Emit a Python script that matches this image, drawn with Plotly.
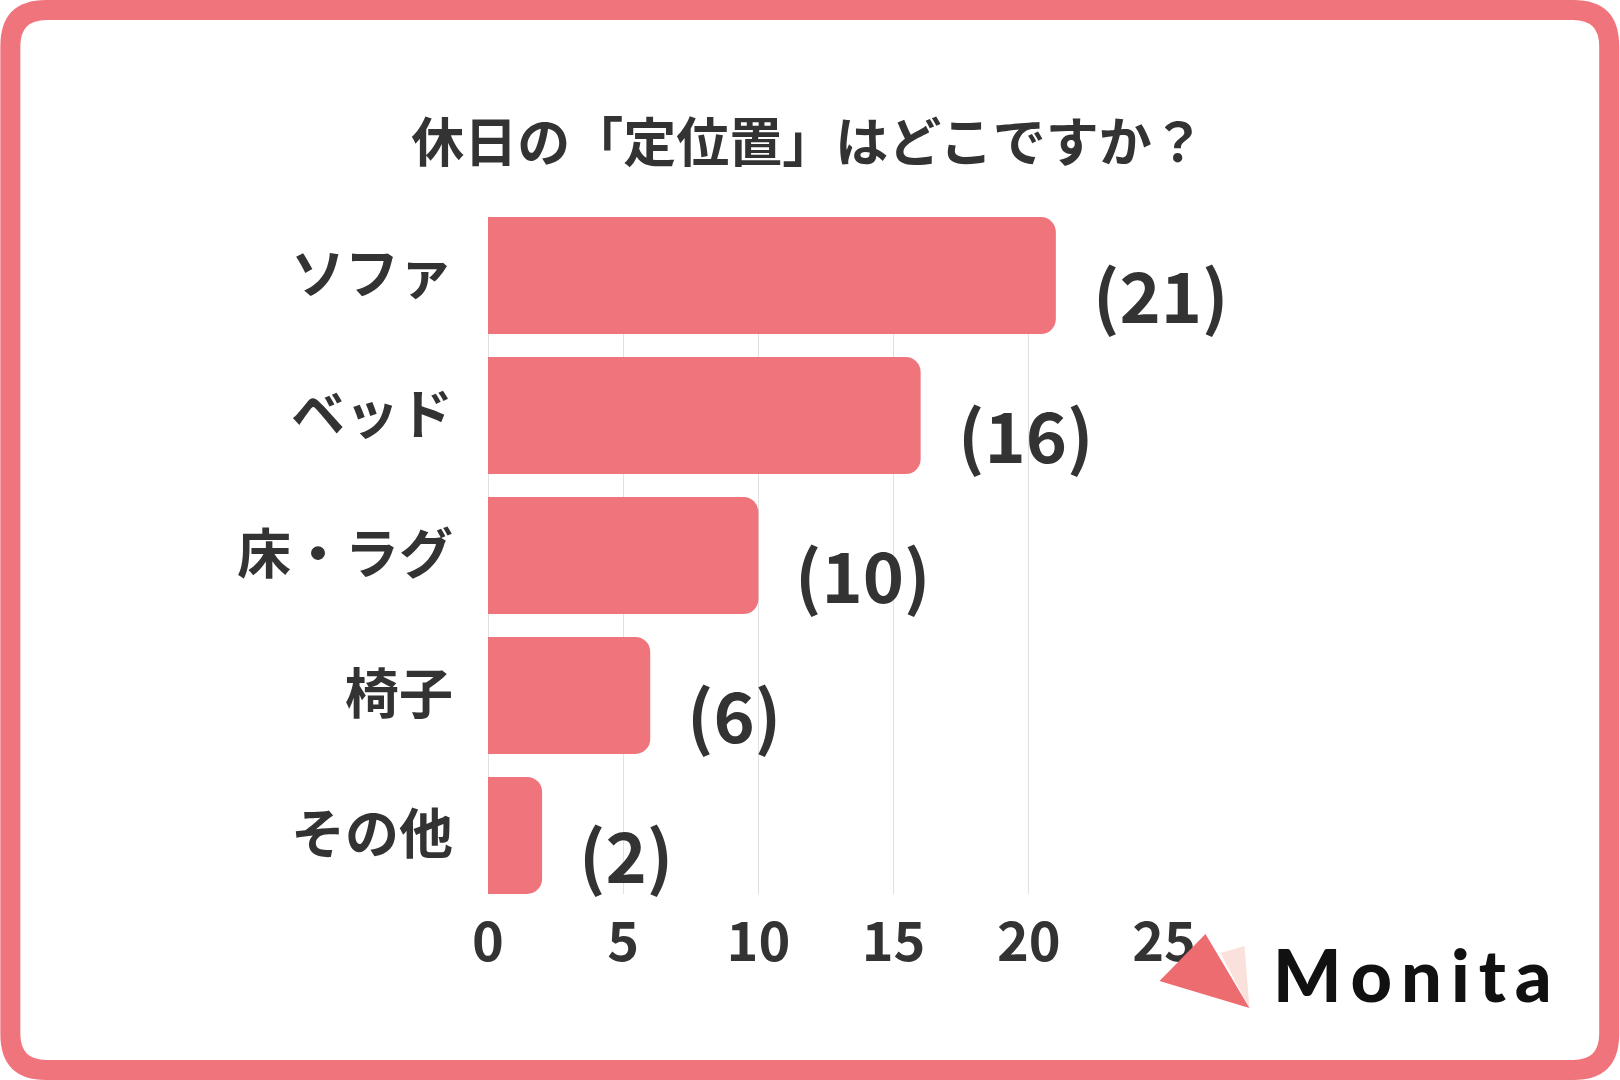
import plotly.graph_objects as go

# ---- data ----
categories = ["ソファ", "ベッド", "床・ラグ", "椅子", "その他"]
values = [21, 16, 10, 6, 2]
x_ticks = [0, 5, 10, 15, 20, 25]
title_text = "休日の「定位置」はどこですか？"
logo_text = "Monita"

# ---- layout constants (pixels) ----
W, H = 1620, 1080
PL, PR, PT, PB = 488, 1164.5, 217, 894
BAR_COLOR = "#EF747B"
TEXT_COLOR = "#333333"
FONT = "Noto Sans CJK JP"


def px(x):
    return (x - PL) / (PR - PL)


def py(y):
    return (PB - y) / (PB - PT)


def rrect(x0, y0, x1, y1, r):
    pts = [
        ("M", (x0 + r, y0)),
        ("L", (x1 - r, y0)),
        ("Q", (x1, y0), (x1, y0 + r)),
        ("L", (x1, y1 - r)),
        ("Q", (x1, y1), (x1 - r, y1)),
        ("L", (x0 + r, y1)),
        ("Q", (x0, y1), (x0, y1 - r)),
        ("L", (x0, y0 + r)),
        ("Q", (x0, y0), (x0 + r, y0)),
    ]
    parts = []
    for p in pts:
        cmd = p[0]
        coords = " ".join(f"{px(a):.5f},{py(b):.5f}" for a, b in p[1:])
        parts.append(f"{cmd} {coords}")
    return " ".join(parts) + " Z"


def poly(points):
    s = "M " + " L ".join(f"{px(a):.5f},{py(b):.5f}" for a, b in points)
    return s + " Z"


fig = go.Figure()
fig.add_trace(
    go.Bar(
        x=values,
        y=categories,
        orientation="h",
        marker=dict(color=BAR_COLOR, cornerradius=15, line=dict(width=0)),
        hoverinfo="skip",
    )
)

shapes = [
    dict(type="path", xref="paper", yref="paper", path=rrect(0, 0, W, H, 46),
         fillcolor=BAR_COLOR, line=dict(width=0), layer="below"),
    dict(type="path", xref="paper", yref="paper", path=rrect(20, 20, W - 20, H - 20, 26),
         fillcolor="white", line=dict(width=0), layer="below"),
    # logo triangles
    dict(type="path", xref="paper", yref="paper",
         path=poly([(1221, 953), (1245, 946), (1250, 1008)]),
         fillcolor="#FBE1DC", line=dict(width=0), layer="above"),
    dict(type="path", xref="paper", yref="paper",
         path=poly([(1160, 981), (1206, 934), (1250, 1008)]),
         fillcolor="#EC6C70", line=dict(width=0), layer="above"),
]

annotations = []
for c, v in zip(categories, values):
    annotations.append(
        dict(x=v, y=c, xref="x", yref="y", text=f"({v})", showarrow=False,
             xanchor="left", yanchor="middle", xshift=35, yshift=-17,
             font=dict(family=FONT, size=70, color=TEXT_COLOR, weight="bold"))
    )
annotations.append(
    dict(x=px(1272), y=py(974), xref="paper", yref="paper",
         text="\u200a\u200a".join(logo_text), showarrow=False,
         xanchor="left", yanchor="middle",
         font=dict(family="Lato", size=72, color="#111111", weight=900))
)

fig.update_layout(
    width=W, height=H,
    margin=dict(l=PL, r=W - PR, t=PT, b=H - PB, pad=0),
    paper_bgcolor="white",
    plot_bgcolor="rgba(0,0,0,0)",
    showlegend=False,
    bargap=0.164,
    title=dict(text=title_text, x=808 / W, xanchor="center", xref="container",
               y=1 - 143 / H, yanchor="middle", yref="container",
               font=dict(family=FONT, size=53, color=TEXT_COLOR, weight="bold")),
    xaxis=dict(range=[0, 25], tickvals=x_ticks, showgrid=True, gridcolor="#e0e0e0",
               gridwidth=1, zeroline=True, zerolinecolor="#e0e0e0", zerolinewidth=1,
               showline=False, ticks="", ticklabelstandoff=12,
               tickfont=dict(family=FONT, size=54, color=TEXT_COLOR, weight="bold"),
               fixedrange=True),
    yaxis=dict(range=[4.418, -0.418], showgrid=False, zeroline=False, showline=False,
               ticks="", ticklabelstandoff=34,
               tickfont=dict(family=FONT, size=54, color=TEXT_COLOR, weight="bold"),
               fixedrange=True),
    shapes=shapes,
    annotations=annotations,
)

fig.write_html("out.html", config={"displayModeBar": False},
               post_script="document.body.style.margin='0';")
